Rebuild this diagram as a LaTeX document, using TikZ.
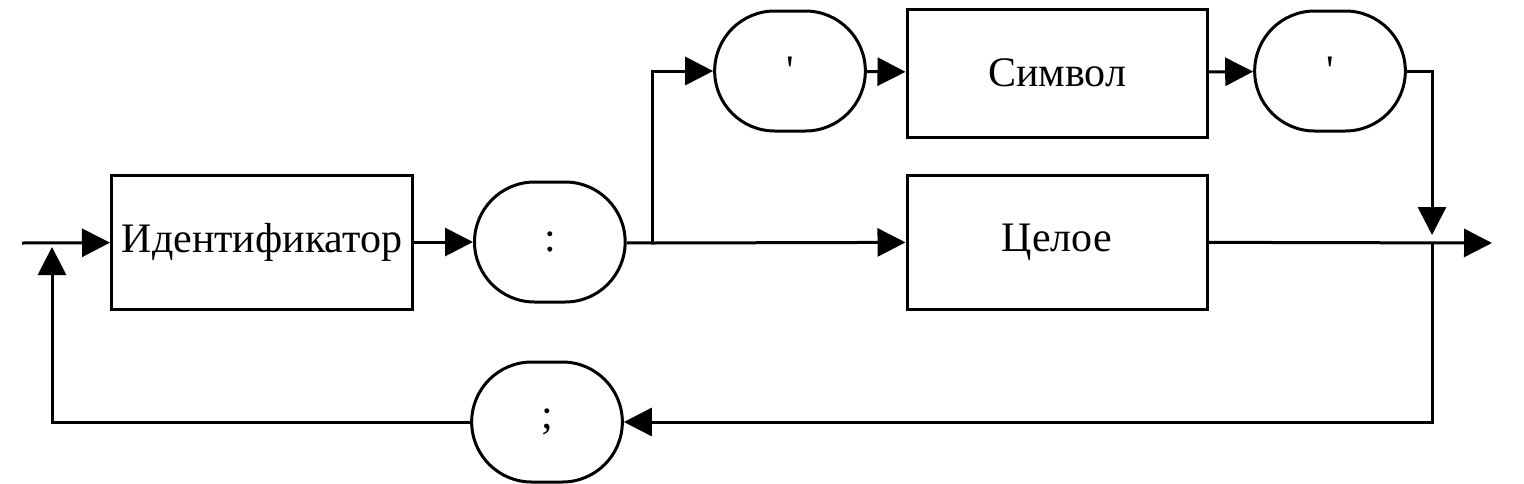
\documentclass[tikz,border=0pt]{standalone}
\usepackage{fontspec}
\setmainfont{Liberation Serif}
\usetikzlibrary{arrows.meta,positioning,shapes.misc}
\tikzset{
  box/.style  = {rectangle, draw=black, line width=1.5pt,
                 minimum width=150pt, minimum height=67pt,
                 inner sep=2pt, font=\fontsize{21}{25}\selectfont},
  term/.style = {rounded rectangle, draw=black, line width=1.5pt,
                 minimum width=82pt, minimum height=60pt,
                 font=\fontsize{21}{25}\selectfont},
  arr/.style  = {-{Triangle[length=14pt, width=14pt]}, line width=1.5pt},
  ln/.style   = {line width=1.5pt},
}
\begin{document}
\begin{tikzpicture}[x=0.5pt, y=-0.5pt]
\useasboundingbox (0,0) rectangle (1524,483);

%% main row
\node[box, minimum width=150.5pt] (ident) at (262,242) {Идентификатор};
\node[term, right=29.5pt of ident] (colon) {:};
\node[box] (int) at (1057,242) {Целое};

%% upper branch
\node[term] (q1)  at (790,71)  {\textquotesingle};
\node[box, minimum height=64pt] (sym) at (1057,73) {Символ};
\node[term] (q2)  at (1330,71) {\textquotesingle};

%% return path
\node[term] (semi) at (547,422) {;};

\coordinate (start) at (22,243);
\coordinate (loop)  at (52,243);
\coordinate (split) at (652,243);
\coordinate (join)  at (1432,243);
\coordinate (out)   at (1492,243);

\draw[arr] (start) -- (ident);
\draw[arr] (ident) -- (colon);
\draw[ln]  (colon) -- (split);
\draw[arr] (split) -- (int);
\draw[arr] (split) |- (q1);
\draw[arr] (q1) -- (sym);
\draw[arr] (sym) -- (q2);
\draw[arr, shorten >=4pt] (q2) -| (join);
\draw[arr] (int) -- (out);
\draw[arr] (join) |- (semi);
\draw[arr, shorten >=2pt] (semi) -| (loop);

\end{tikzpicture}
\end{document}
